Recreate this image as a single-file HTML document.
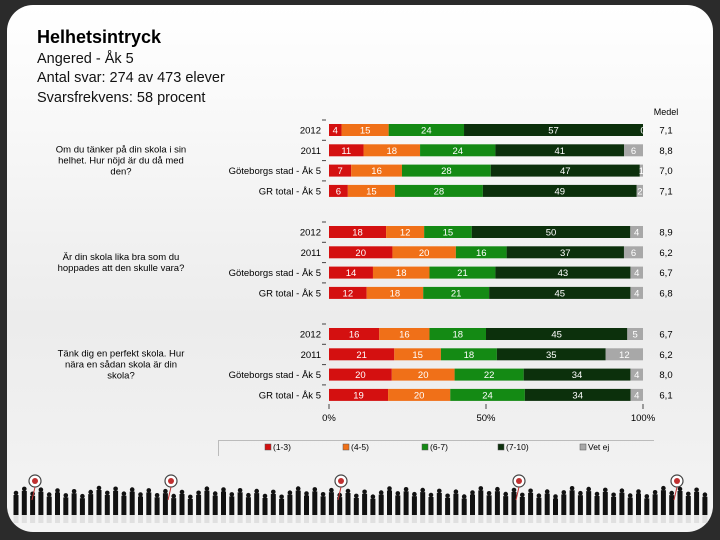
<!DOCTYPE html>
<html><head><meta charset="utf-8"><style>
body{margin:0;width:720px;height:540px;background:#2b2b2b;font-family:"Liberation Sans",sans-serif;overflow:hidden}
#panel{position:absolute;left:7px;top:5px;width:706px;height:527px;border-radius:26px;background:linear-gradient(#ffffff,#ececec 60%,#f4f4f4);overflow:hidden}
svg{position:absolute;left:0;top:0}
</style></head><body>
<div id="panel"></div>
<svg id="c" width="720" height="540" font-family="Liberation Sans, sans-serif">
<text x="37" y="43" font-size="18" font-weight="bold" fill="#000">Helhetsintryck</text>
<text x="37" y="63" font-size="14.5" fill="#111">Angered - Åk 5</text>
<text x="37" y="82" font-size="14.5" fill="#111">Antal svar: 274 av 473 elever</text>
<text x="37" y="102" font-size="14.5" fill="#111">Svarsfrekvens: 58 procent</text>
<text x="666" y="115" font-size="9" text-anchor="middle">Medel</text>
<g id="bars"></g>
<g id="people"></g>
</svg>
<script>
const questions=[["Om du tänker på din skola i sin","helhet. Hur nöjd är du då med","den?"],["Är din skola lika bra som du","hoppades att den skulle vara?"],["Tänk dig en perfekt skola. Hur","nära en sådan skola är din","skola?"]];
const groups=["2012","2011","Göteborgs stad - Åk 5","GR total - Åk 5"];
const s1=[[4,15,24,57,0],[11,18,24,41,6],[7,16,28,47,1],[6,15,28,49,2]];
const s2=[[18,12,15,50,4],[20,20,16,37,6],[14,18,21,43,4],[12,18,21,45,4]];
const s3=[[16,16,18,45,5],[21,15,18,35,12],[20,20,22,34,4],[19,20,24,34,4]];
const medel=[["7,1","8,8","7,0","7,1"],["8,9","6,2","6,7","6,8"],["6,7","6,2","8,0","6,1"]];
const cats=["(1-3)","(4-5)","(6-7)","(7-10)","Vet ej"];
const ticks=[0,50,100];
const colors=["#d41010","#f07018","#148a14","#0c300c","#a8a8a8"];
const series=[s1,s2,s3];
const X0=329,X1=643;const x=v=>X0+(X1-X0)*v/100;
const rowY=(q,r)=>130+q*102+r*20.3;
const NS="http://www.w3.org/2000/svg";
const g=document.getElementById('bars');
function el(t,a,p){const e=document.createElementNS(NS,t);for(const k in a)e.setAttribute(k,a[k]);(p||g).appendChild(e);return e;}
series.forEach((s,q)=>{
  const qt=questions[q];const cy=rowY(q,1.5);
  qt.forEach((l,i)=>{const t=el('text',{x:121,y:cy-(qt.length-1)*5.5+i*11+3,'font-size':9.5,'text-anchor':'middle',fill:'#000'});t.textContent=l;
  
  });
  s.forEach((row,r)=>{const y=rowY(q,r);let acc=0;
    const tot=row.reduce((a,b)=>a+b,0);
    const gl=el('text',{x:321,y:y+3.5,'font-size':9.5,'text-anchor':'end'});gl.textContent=groups[r];
    
    
    el('line',{x1:322,x2:326,y1:y-10,y2:y-10,stroke:'#444','stroke-width':1});
    row.forEach((v,i)=>{const a0=acc*100/tot,a1=(acc+v)*100/tot;
      const r1=el('rect',{x:x(a0),y:y-6,width:Math.max(x(a1)-x(a0),0),height:12,fill:colors[i]});
      
      
      const w=x(a1)-x(a0);
      const t=el('text',{x:x(a0)+w/2,y:y+3.5,'font-size':9.5,'text-anchor':'middle',fill:'#fff'});t.textContent=v;
      
      
      acc+=v;});
    const m=el('text',{x:666,y:y+3.5,'font-size':9.5,'text-anchor':'middle'});m.textContent=medel[q][r];
    
    
  });
});
ticks.forEach(v=>{el('line',{x1:x(v),x2:x(v),y1:404,y2:409,stroke:'#444'});
  const t=el('text',{x:x(v),y:421,'font-size':9.5,'text-anchor':'middle'});t.textContent=v+'%';
  
  });
el('line',{x1:218,x2:654,y1:440.5,y2:440.5,stroke:'#bbb'});
el('line',{x1:218.5,x2:218.5,y1:440,y2:456,stroke:'#bbb'});
const lx=[265,343,422,498,580];
cats.forEach((c,i)=>{const r=el('rect',{x:lx[i],y:444,width:6,height:6,fill:colors[i],stroke:'#555','stroke-width':0.5});
  
  
  const t=el('text',{x:lx[i]+8,y:450,'font-size':8.5});t.textContent=c;
  
  });
const pg=document.getElementById('people');
for(let px=16;px<706;px+=8.3){const h=20+((px*7)%9);const top=515-h;
  el('circle',{cx:px,cy:top+2,r:2.3,fill:'#111'},pg);
  el('rect',{x:px-2.5,y:top+4,width:5,height:h-4,fill:'#111'},pg);
  el('rect',{x:px-2.5,y:515,width:5,height:8,fill:'#ccc',opacity:0.5},pg);}
[35,171,341,519,677].forEach(tx=>{
  el('circle',{cx:tx,cy:481,r:6,fill:'#fff',stroke:'#444','stroke-width':1.2},pg);
  el('circle',{cx:tx,cy:481,r:3,fill:'#c03030'},pg);
  el('line',{x1:tx,x2:tx-3,y1:487,y2:500,stroke:'#c03030'},pg);});
</script>
</body></html>
